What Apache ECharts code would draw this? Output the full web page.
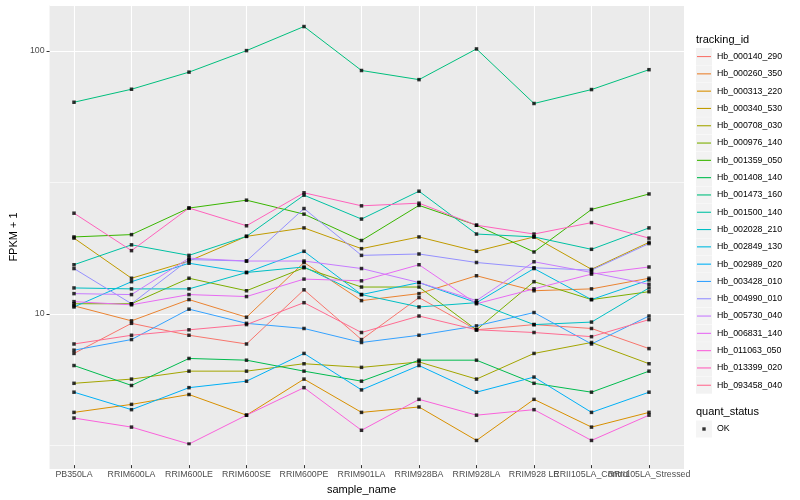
<!DOCTYPE html>
<html><head><meta charset="utf-8">
<script src="https://cdn.jsdelivr.net/npm/echarts@6/dist/echarts.min.js"></script>
<style>html,body{margin:0;padding:0;background:#fff}#c{width:800px;height:500px}</style>
</head><body><div id="c"></div>
<script>
const categories = ['PB350LA','RRIM600LA','RRIM600LE','RRIM600SE','RRIM600PE','RRIM901LA','RRIM928BA','RRIM928LA','RRIM928 LE','RRII105LA_Control','RRII105LA_Stressed'];
const trackingIds = ['Hb_000140_290','Hb_000260_350','Hb_000313_220','Hb_000340_530','Hb_000708_030','Hb_000976_140','Hb_001359_050','Hb_001408_140','Hb_001473_160','Hb_001500_140','Hb_002028_210','Hb_002849_130','Hb_002989_020','Hb_003428_010','Hb_004990_010','Hb_005730_040','Hb_006831_140','Hb_011063_050','Hb_013399_020','Hb_093458_040'];
const colors = ['#F8766D','#EA8331','#D89000','#C09B00','#A3A500','#7CAE00','#39B600','#00BB4E','#00BF7D','#00C1A3','#00BFC4','#00BAE0','#00B0F6','#35A2FF','#9590FF','#C77CFF','#E76BF3','#FA62DB','#FF62BC','#FF6C91'];

// FPKM + 1 values per tracking_id, one per sample_name
const Hb_000140_290 = [6.9, 9.0, 8.1, 7.5, 12.1, 7.8, 11.3, 8.5, 8.9, 8.6, 7.2];
const Hb_000260_350 = [10.5, 9.2, 11.1, 9.5, 15.4, 11.0, 11.7, 13.7, 12.0, 12.2, 13.4];
const Hb_000313_220 = [4.1, 4.4, 4.8, 4.0, 5.5, 4.1, 4.3, 3.2, 4.6, 3.6, 4.1];
const Hb_000340_530 = [19.1, 13.4, 15.6, 19.4, 20.9, 17.4, 19.3, 17.0, 19.3, 14.5, 18.4];
const Hb_000708_030 = [5.3, 5.5, 5.9, 5.9, 6.3, 6.1, 6.4, 5.5, 6.9, 7.6, 6.3];
const Hb_000976_140 = [10.7, 10.7, 13.4, 12.0, 14.7, 12.4, 12.4, 8.5, 13.0, 11.1, 11.9];
const Hb_001359_050 = [19.3, 19.7, 24.9, 26.7, 23.6, 18.7, 25.5, 21.4, 16.9, 24.6, 28.2];
const Hb_001408_140 = [6.2, 5.2, 6.6, 6.5, 5.9, 5.4, 6.5, 6.5, 5.3, 4.9, 5.9];
const Hb_001473_160 = [63.4, 71.1, 82.7, 100, 123.7, 83.9, 77.4, 101.5, 62.7, 70.9, 84.5];
const Hb_001500_140 = [15.1, 18.0, 16.4, 19.4, 27.9, 22.6, 28.9, 19.8, 19.3, 17.3, 20.9];
const Hb_002028_210 = [12.3, 12.2, 12.2, 14.1, 14.8, 11.6, 10.4, 10.8, 8.9, 9.1, 12.3];
const Hb_002849_130 = [10.4, 13.0, 15.3, 14.1, 17.0, 11.6, 12.9, 10.8, 14.6, 11.1, 13.2];
const Hb_002989_020 = [4.9, 4.2, 5.1, 5.4, 6.9, 5.0, 6.2, 4.9, 5.6, 4.1, 4.9];
const Hb_003428_010 = [7.1, 7.8, 10.2, 9.0, 8.6, 7.6, 8.1, 8.8, 9.9, 7.5, 9.6];
const Hb_004990_010 = [14.6, 10.7, 15.8, 15.6, 24.8, 16.4, 16.6, 15.4, 14.7, 14.4, 18.2];
const Hb_005730_040 = [11.7, 11.6, 16.0, 15.6, 15.6, 14.6, 12.9, 11.0, 15.5, 14.1, 12.7];
const Hb_006831_140 = [10.9, 10.6, 11.6, 11.4, 13.3, 13.1, 15.1, 10.7, 12.2, 13.9, 14.8];
const Hb_011063_050 = [3.9, 3.6, 3.1, 4.0, 5.1, 3.5, 4.6, 4.0, 4.2, 3.2, 4.0];
const Hb_013399_020 = [23.8, 17.1, 24.9, 21.3, 28.5, 25.4, 26.0, 21.4, 19.8, 21.9, 19.1];
const Hb_093458_040 = [7.5, 8.1, 8.5, 8.9, 10.8, 8.3, 9.6, 8.5, 8.3, 8.0, 9.3];

const yMin = 2.574, yMax = 149.6;
const minorBreaks = [Math.sqrt(10), Math.sqrt(1000)];

const seriesValues = [Hb_000140_290, Hb_000260_350, Hb_000313_220, Hb_000340_530, Hb_000708_030, Hb_000976_140, Hb_001359_050, Hb_001408_140, Hb_001473_160, Hb_001500_140, Hb_002028_210, Hb_002849_130, Hb_002989_020, Hb_003428_010, Hb_004990_010, Hb_005730_040, Hb_006831_140, Hb_011063_050, Hb_013399_020, Hb_093458_040];

const FONT = '"Liberation Sans", Arial, Helvetica, sans-serif';
const chart = echarts.init(document.getElementById('c'), null, {renderer: 'canvas'});

const series = [{
  type: 'line', xAxisIndex: 0, yAxisIndex: 0, data: [], silent: true, z: 1,
  markLine: {silent: true, symbol: 'none', label: {show: false}, animation: false,
    lineStyle: {color: '#FFFFFF', width: 0.6, type: 'solid'},
    data: minorBreaks.map(v => ({yAxis: v}))}
}];
trackingIds.forEach((id, i) => {
  series.push({type: 'line', name: id, xAxisIndex: 1, yAxisIndex: 1, data: seriesValues[i],
    showSymbol: false, symbol: 'none', silent: true, z: 2,
    lineStyle: {width: 1, color: colors[i]}, itemStyle: {color: colors[i]}});
});
const points = [];
seriesValues.forEach(arr => arr.forEach((v, j) => points.push([j, v])));
series.push({type: 'scatter', name: 'OK', xAxisIndex: 1, yAxisIndex: 1, data: points,
  symbol: 'rect', symbolSize: 3.5, itemStyle: {color: '#000'}, silent: true, z: 3});

const legendBase = {orient: 'vertical', left: 696, top: 48, itemWidth: 16, itemHeight: 17, itemGap: 0.3,
  padding: 0, selectedMode: false, textStyle: {fontSize: 8.8, fontFamily: FONT, color: '#000'}};

const option = {
  animation: false,
  backgroundColor: '#FFFFFF',
  title: [
    {text: 'tracking_id', left: 696, top: 34, padding: 0, textStyle: {fontSize: 11, fontWeight: 'normal', color: '#000', fontFamily: FONT}},
    {text: 'quant_status', left: 696, top: 406, padding: 0, textStyle: {fontSize: 11, fontWeight: 'normal', color: '#000', fontFamily: FONT}}
  ],
  legend: [
    Object.assign({}, legendBase, {data: trackingIds, icon: 'rect', itemStyle: {color: '#F2F2F2'}, z: 1,
      textStyle: {fontSize: 8.8, fontFamily: FONT, color: 'rgba(0,0,0,0)'}}),
    Object.assign({}, legendBase, {data: trackingIds.map((n, i) => ({name: n, itemStyle: {color: colors[i]}})),
      icon: 'path://M0,0L0,0M16,17L16,17M1,8H15V9.1H1Z', z: 2}),
    Object.assign({}, legendBase, {top: 420.5, data: ['OK'], icon: 'rect', itemStyle: {color: '#F2F2F2'}, z: 1,
      textStyle: {fontSize: 8.8, fontFamily: FONT, color: 'rgba(0,0,0,0)'}}),
    Object.assign({}, legendBase, {top: 420.5, data: ['OK'], icon: 'path://M0,0L0,0M16,17L16,17M6.3,6.8H9.7V10.2H6.3Z', z: 2})
  ],
  grid: [
    {left: 40, right: 116, top: 5, bottom: 31, show: true, backgroundColor: '#EBEBEB', borderWidth: 0},
    {left: 74, right: 151, top: 5, bottom: 31}
  ],
  xAxis: [
    {gridIndex: 0, type: 'value', min: 0, max: 1, show: false},
    {gridIndex: 1, type: 'category', data: categories, boundaryGap: false,
      axisLine: {show: false},
      axisTick: {show: true, length: 3, lineStyle: {color: '#333333', width: 1}},
      axisLabel: {interval: 0, fontSize: 8.8, color: '#4D4D4D', margin: 5, fontFamily: FONT},
      splitLine: {show: true, lineStyle: {color: '#FFFFFF', width: 1.1}},
      name: 'sample_name', nameLocation: 'middle', nameGap: 14,
      nameTextStyle: {fontSize: 11, color: '#000', fontFamily: FONT}}
  ],
  yAxis: [
    {gridIndex: 0, type: 'log', logBase: 10, min: yMin, max: yMax,
      axisLine: {show: false},
      axisTick: {show: true, length: 3, lineStyle: {color: '#333333', width: 1}},
      axisLabel: {fontSize: 8.8, color: '#4D4D4D', margin: 5, fontFamily: FONT, showMinLabel: false, showMaxLabel: false},
      splitLine: {show: true, lineStyle: {color: '#FFFFFF', width: 1.1}},
      name: 'FPKM + 1', nameLocation: 'middle', nameGap: 24,
      nameTextStyle: {fontSize: 11, color: '#000', fontFamily: FONT}},
    {gridIndex: 1, type: 'log', logBase: 10, min: yMin, max: yMax, show: false}
  ],
  series: series
};
chart.setOption(option);
</script>
</body></html>
